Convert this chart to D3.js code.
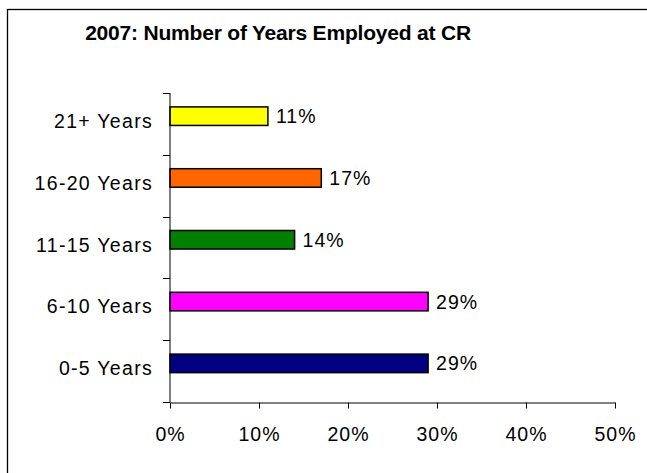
<!DOCTYPE html>
<html>
<head>
<meta charset="utf-8">
<script src="https://cdn.jsdelivr.net/npm/d3@7"></script>
<style>
  html, body { margin: 0; padding: 0; background: #fff; overflow: hidden; }
  svg { display: block; font-family: "Liberation Sans", Arial, sans-serif; }
</style>
</head>
<body>
<svg id="chart" width="647" height="473"></svg>
<script>
// Share of staff by length of employment, top category first
const categories = ["21+ Years", "16-20 Years", "11-15 Years", "6-10 Years", "0-5 Years"];
const values = [0.11, 0.17, 0.14, 0.29, 0.29];
const colors = ["#FFFF00", "#FF6600", "#008000", "#FF00FF", "#000080"];
const xTicks = [0, 0.1, 0.2, 0.3, 0.4, 0.5];
const titleText = "2007: Number of Years Employed at CR";

const svg = d3.select("#chart");
const labelFont = 19.5;

// Outer chart frame (runs off the right and bottom edges)
svg.append("rect")
  .attr("x", 7.5).attr("y", 9.5)
  .attr("width", 660).attr("height", 480)
  .attr("fill", "#fff").attr("stroke", "#000").attr("stroke-width", 1.3);

svg.append("text")
  .attr("x", 278).attr("y", 40)
  .attr("text-anchor", "middle")
  .attr("font-weight", "bold")
  .attr("font-size", 21)
  .attr("letter-spacing", -0.2)
  .text(titleText);

const x = d3.scaleLinear().domain([0, 0.5]).range([170, 615]);
const y = d3.scaleBand().domain(categories).range([93, 402]).paddingInner(0).paddingOuter(0);
const bw = y.bandwidth();

const g = svg.append("g");

// Bars
g.selectAll("rect.bar")
  .data(categories)
  .join("rect")
  .attr("class", "bar")
  .attr("x", x(0))
  .attr("y", (d) => y(d) + bw * 0.225)
  .attr("width", (d, i) => x(values[i]) - x(0))
  .attr("height", bw * 0.3)
  .attr("fill", (d, i) => colors[i])
  .attr("stroke", "#000")
  .attr("stroke-width", 1.5);

// Value labels
g.selectAll("text.val")
  .data(categories)
  .join("text")
  .attr("class", "val")
  .attr("x", (d, i) => x(values[i]) + 8)
  .attr("y", (d) => y(d) + bw * 0.375)
  .attr("dy", "0.36em")
  .attr("font-size", labelFont)
  .attr("letter-spacing", 1)
  .text((d, i) => Math.round(values[i] * 100) + "%");

// Category axis (ticks between categories)
const yAxisG = svg.append("g");
yAxisG.append("line")
  .attr("x1", x(0)).attr("x2", x(0))
  .attr("y1", 93).attr("y2", 402)
  .attr("stroke", "#000").attr("stroke-width", 1);
const yBounds = categories.map((d) => y(d)).concat([402]);
yAxisG.selectAll("line.tk")
  .data(yBounds)
  .join("line")
  .attr("class", "tk")
  .attr("x1", x(0) - 7).attr("x2", x(0))
  .attr("y1", (d) => Math.round(d) + 0.5).attr("y2", (d) => Math.round(d) + 0.5)
  .attr("stroke", "#000");
yAxisG.selectAll("text")
  .data(categories)
  .join("text")
  .attr("x", 153)
  .attr("y", (d) => y(d) + bw / 2 - 3)
  .attr("dy", "0.36em")
  .attr("text-anchor", "end")
  .attr("font-size", labelFont)
  .attr("letter-spacing", 1.3)
  .text((d) => d);

// Value axis
const xAxis = d3.axisBottom(x)
  .tickValues(xTicks)
  .tickFormat(d3.format(".0%"))
  .tickSize(6)
  .tickSizeOuter(0);
const xAxisG = svg.append("g")
  .attr("transform", "translate(0,402.5)")
  .call(xAxis);
xAxisG.select(".domain").attr("stroke", "#000");
xAxisG.selectAll(".tick line").attr("stroke", "#000");
xAxisG.selectAll(".tick text")
  .attr("font-family", "\"Liberation Sans\", Arial, sans-serif")
  .attr("font-size", labelFont)
  .attr("letter-spacing", 1)
  .attr("fill", "#000")
  .attr("y", 31)
  .attr("dy", "0.36em");
</script>
</body>
</html>
